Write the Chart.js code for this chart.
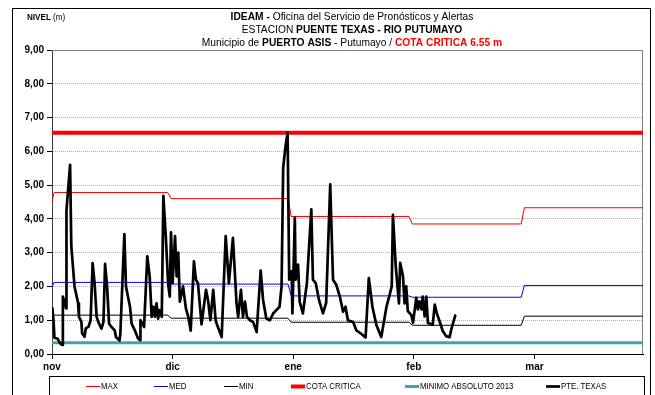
<!DOCTYPE html>
<html>
<head>
<meta charset="utf-8">
<script src="https://cdn.jsdelivr.net/npm/chart.js@4.4.0/dist/chart.umd.min.js"></script>
<style>
  html, body { margin: 0; padding: 0; background: #fff; }
  canvas { display: block; }
</style>
</head>
<body>
<canvas id="nivelChart" width="655" height="395"></canvas>
<script>
// meses del eje x (un tick cada 30 dias desde el 1 de noviembre)
const meses = ['nov', 'dic', 'ene', 'feb', 'mar'];
const diasMes = [0, 30, 60, 90, 120];
const diaFinal = 147;

// niveles diarios PTE. TEXAS (dia desde 1 nov, nivel en m)
const dias = [
    0.1, 0.4, 0.6, 1.4, 2.0, 2.5, 2.7, 3.1, 3.5, 3.6, 4.5, 4.8, 5.6, 6.5, 6.7, 7.3, 7.5, 8.1, 8.4, 9.1,
    9.6, 10.1, 10.6, 11.1, 11.5, 12.3, 12.8, 13.2, 13.7, 14.2, 14.8, 15.6, 15.9, 16.8, 17.0, 18.0, 18.4, 19.4, 19.8, 20.6,
    21.4, 21.9, 22.0, 22.9, 23.7, 24.3, 24.8, 25.2, 25.6, 26.0, 26.4, 26.8, 27.3, 27.7, 28.3, 28.9, 29.3, 29.6, 30.0, 30.6,
    31.0, 31.4, 31.8, 32.6, 33.3, 33.9, 34.5, 35.3, 35.8, 36.3, 37.2, 38.3, 38.8, 39.4, 40.1, 40.7, 41.1, 42.2, 43.2, 44.0,
    45.0, 45.9, 46.3, 47.0, 47.5, 48.0, 48.5, 49.2, 50.0, 50.9, 51.9, 52.5, 53.3, 54.2, 55.0, 55.8, 56.6, 57.1, 57.5, 58.1,
    58.6, 59.0, 59.6, 59.8, 60.4, 60.6, 61.2, 61.6, 62.4, 63.4, 64.5, 64.9, 65.6, 66.4, 67.4, 68.2, 69.2, 69.9, 70.7, 71.6,
    72.4, 73.0, 73.6, 74.9, 75.7, 76.9, 78.0, 78.8, 79.7, 80.7, 81.9, 83.2, 84.0, 84.5, 84.8, 85.5, 86.3, 86.6, 87.3, 87.7,
    88.1, 88.5, 89.4, 89.8, 90.6, 91.0, 91.4, 91.9, 92.2, 92.7, 93.1, 93.5, 94.7, 95.2, 95.7, 96.4, 97.2, 98.0, 98.9, 99.3,
    100.3
];
const nivel = [
    1.35, 0.95, 0.48, 0.45, 0.32, 0.27, 1.70, 1.55, 1.35, 4.25, 5.60, 3.20, 2.00, 1.50, 1.10, 0.96, 0.61, 0.51, 0.76, 0.81,
    1.00, 2.69, 2.09, 1.10, 0.95, 0.75, 0.95, 2.67, 2.00, 0.90, 0.80, 0.70, 0.50, 0.40, 0.60, 3.55, 2.00, 1.40, 0.90, 0.70,
    0.46, 0.41, 1.00, 0.80, 2.89, 2.29, 1.10, 1.40, 1.10, 1.50, 1.05, 1.30, 1.10, 4.68, 3.49, 2.05, 1.70, 3.60, 2.10, 3.49,
    2.30, 3.00, 1.55, 2.00, 1.35, 1.10, 0.69, 2.74, 2.20, 2.10, 0.88, 1.90, 1.60, 1.00, 1.90, 1.00, 0.85, 0.50, 3.49, 2.10,
    3.44, 1.50, 1.10, 1.90, 1.10, 1.55, 1.10, 1.00, 0.95, 0.65, 2.47, 1.60, 1.05, 1.00, 1.20, 1.30, 1.40, 2.00, 5.52, 6.17,
    6.55, 2.20, 2.45, 1.20, 4.03, 2.20, 2.65, 1.55, 1.20, 2.10, 4.28, 2.20, 2.10, 1.60, 1.20, 1.52, 5.02, 2.20, 2.05, 1.70,
    1.25, 1.40, 1.00, 0.95, 0.70, 0.60, 0.49, 2.25, 1.40, 0.85, 0.50, 1.40, 1.76, 2.00, 4.12, 2.60, 1.50, 2.70, 2.30, 1.50,
    2.00, 1.27, 1.15, 0.92, 1.66, 1.32, 1.56, 1.32, 1.70, 1.11, 1.70, 0.92, 0.87, 1.46, 1.21, 0.97, 0.68, 0.53, 0.50, 0.72,
    1.14
];

// niveles historicos por mes (cambian en cada quiebre)
const quiebres = [29.2, 59.1, 89.2, 117.1];
const maxInicio = 4.50;
const maxMes = [4.78, 4.60, 4.07, 3.85, 4.33];
const medInicio = 1.98;
const medMes = [2.12, 2.07, 1.72, 1.68, 2.03];
const minInicio = 1.15;
const minMes = [1.15, 1.06, 0.94, 0.85, 1.12];
const cotaCritica = 6.55;
const minimoAbsoluto = 0.33;

const FUENTE = '"Liberation Sans Narrow", "Arial Narrow", "Liberation Sans", Arial, sans-serif';

function escalon(inicio, valores) {
    const pts = [{ x: 0, y: inicio }, { x: 0.5, y: valores[0] }];
    quiebres.forEach((q, i) => {
        pts.push({ x: q - 0.4, y: valores[i] });
        pts.push({ x: q + 0.4, y: valores[i + 1] });
    });
    pts.push({ x: diaFinal, y: valores[valores.length - 1] });
    return pts;
}

function constante(valor) {
    return [{ x: 0, y: valor }, { x: diaFinal, y: valor }];
}

const serieTexas = dias.map((d, i) => ({ x: d, y: nivel[i] }));

// texto angosto: se comprime en x para parecerse a Arial Narrow
function textoAngosto(ctx, txt, x, y, escala) {
    ctx.save();
    ctx.translate(x, y);
    ctx.scale(escala, 1);
    ctx.fillText(txt, 0, 0);
    ctx.restore();
}

function dibujarTexto(ctx, partes, cx, y, size, escala) {
    let total = 0;
    partes.forEach(p => {
        ctx.font = (p.bold ? 'bold ' : '') + size + 'px ' + FUENTE;
        p.w = ctx.measureText(p.t).width * escala;
        total += p.w;
    });
    let x = cx - total / 2;
    partes.forEach(p => {
        ctx.font = (p.bold ? 'bold ' : '') + size + 'px ' + FUENTE;
        ctx.fillStyle = p.color || '#000';
        textoAngosto(ctx, p.t, x, y, escala);
        x += p.w;
    });
}

// marco, titulo y leyenda al estilo de la hoja original
const decoracion = {
    id: 'decoracion',
    beforeDatasetsDraw(chart) {
        const { ctx, chartArea: a } = chart;
        ctx.save();
        ctx.strokeStyle = '#808080';
        ctx.lineWidth = 1;
        ctx.beginPath();
        ctx.moveTo(a.left, a.top + 0.5);
        ctx.lineTo(a.right - 0.5, a.top + 0.5);
        ctx.lineTo(a.right - 0.5, a.bottom);
        ctx.stroke();
        ctx.restore();
    },
    afterDraw(chart) {
        const ctx = chart.ctx;
        ctx.save();
        ctx.strokeStyle = '#000';
        ctx.lineWidth = 1;
        ctx.strokeRect(12.5, 8.5, 638, 400);

        ctx.textBaseline = 'middle';
        ctx.textAlign = 'left';
        ctx.font = 'bold 9px ' + FUENTE;
        ctx.fillStyle = '#000';
        textoAngosto(ctx, 'NIVEL', 27, 18, 0.9);
        const wNivel = ctx.measureText('NIVEL ').width * 0.9;
        ctx.font = '9px ' + FUENTE;
        textoAngosto(ctx, '(m)', 27 + wNivel, 18, 0.9);

        const cx = 352;
        dibujarTexto(ctx, [
            { t: 'IDEAM - ', bold: true },
            { t: 'Oficina del Servicio de Pronósticos y Alertas' }
        ], cx, 17, 11, 0.93);
        dibujarTexto(ctx, [
            { t: 'ESTACION ' },
            { t: 'PUENTE TEXAS - RIO PUTUMAYO', bold: true }
        ], cx, 30, 11, 0.93);
        dibujarTexto(ctx, [
            { t: 'Municipio de ' },
            { t: 'PUERTO ASIS', bold: true },
            { t: ' - Putumayo / ' },
            { t: 'COTA CRITICA 6.55 m', bold: true, color: '#ff0000' }
        ], cx, 43, 11, 0.93);

        // leyenda
        ctx.strokeStyle = '#000';
        ctx.lineWidth = 1;
        ctx.strokeRect(49.5, 376.5, 595, 30);
        const posX = [86, 154, 224, 291, 405, 546];
        const orden = ['MAX', 'MED', 'MIN', 'COTA CRITICA', 'MINIMO ABSOLUTO 2013', 'PTE. TEXAS'];
        ctx.font = '9px ' + FUENTE;
        orden.forEach((nombre, i) => {
            const ds = chart.data.datasets.find(d => d.label === nombre);
            ctx.strokeStyle = ds.borderColor;
            ctx.lineWidth = ds.borderWidth;
            ctx.beginPath();
            ctx.moveTo(posX[i], 386.5);
            ctx.lineTo(posX[i] + 14, 386.5);
            ctx.stroke();
            ctx.fillStyle = '#000';
            textoAngosto(ctx, nombre, posX[i] + 15, 387, 0.87);
        });
        ctx.restore();
    }
};

new Chart(document.getElementById('nivelChart'), {
    type: 'line',
    data: {
        datasets: [
            { label: 'PTE. TEXAS', data: serieTexas, borderColor: '#000000', borderWidth: 2.7, order: 0,
              borderJoinStyle: 'round', borderCapStyle: 'round' },
            { label: 'MINIMO ABSOLUTO 2013', data: constante(minimoAbsoluto), borderColor: '#45a0b6', borderWidth: 3, order: 1 },
            { label: 'COTA CRITICA', data: constante(cotaCritica), borderColor: '#ff0000', borderWidth: 4, order: 2 },
            { label: 'MIN', data: escalon(minInicio, minMes), borderColor: '#000000', borderWidth: 1, order: 3 },
            { label: 'MED', data: escalon(medInicio, medMes), borderColor: '#0000ff', borderWidth: 1, order: 4 },
            { label: 'MAX', data: escalon(maxInicio, maxMes), borderColor: '#ff0000', borderWidth: 1, order: 5 }
        ]
    },
    options: {
        responsive: false,
        animation: false,
        elements: { point: { radius: 0 }, line: { tension: 0 } },
        layout: { padding: { top: 50, right: 12, bottom: 21, left: 0 } },
        plugins: {
            legend: { display: false },
            title: { display: false },
            tooltip: { enabled: false }
        },
        scales: {
            x: {
                type: 'linear',
                min: 0,
                max: diaFinal,
                afterBuildTicks: s => { s.ticks = diasMes.map(v => ({ value: v })); },
                afterFit: s => { s.height = 20; },
                ticks: {
                    autoSkip: false,
                    maxRotation: 0,
                    padding: 2,
                    color: '#000',
                    font: { family: FUENTE, size: 10, weight: 'bold' },
                    callback: v => meses[diasMes.indexOf(v)]
                },
                grid: { drawOnChartArea: false, tickLength: 5, tickColor: '#000' },
                border: { color: '#000' }
            },
            y: {
                min: 0,
                max: 9,
                afterFit: s => { s.width = 52; },
                ticks: {
                    stepSize: 1,
                    padding: 3,
                    color: '#000',
                    font: { family: FUENTE, size: 10, weight: 'bold' },
                    callback: v => v.toFixed(2).replace('.', ',')
                },
                grid: { color: '#b0b0b0', tickLength: 5, tickColor: '#000' },
                border: { color: '#404040', dash: [1, 1] }
            }
        }
    },
    plugins: [decoracion]
});
</script>
</body>
</html>
